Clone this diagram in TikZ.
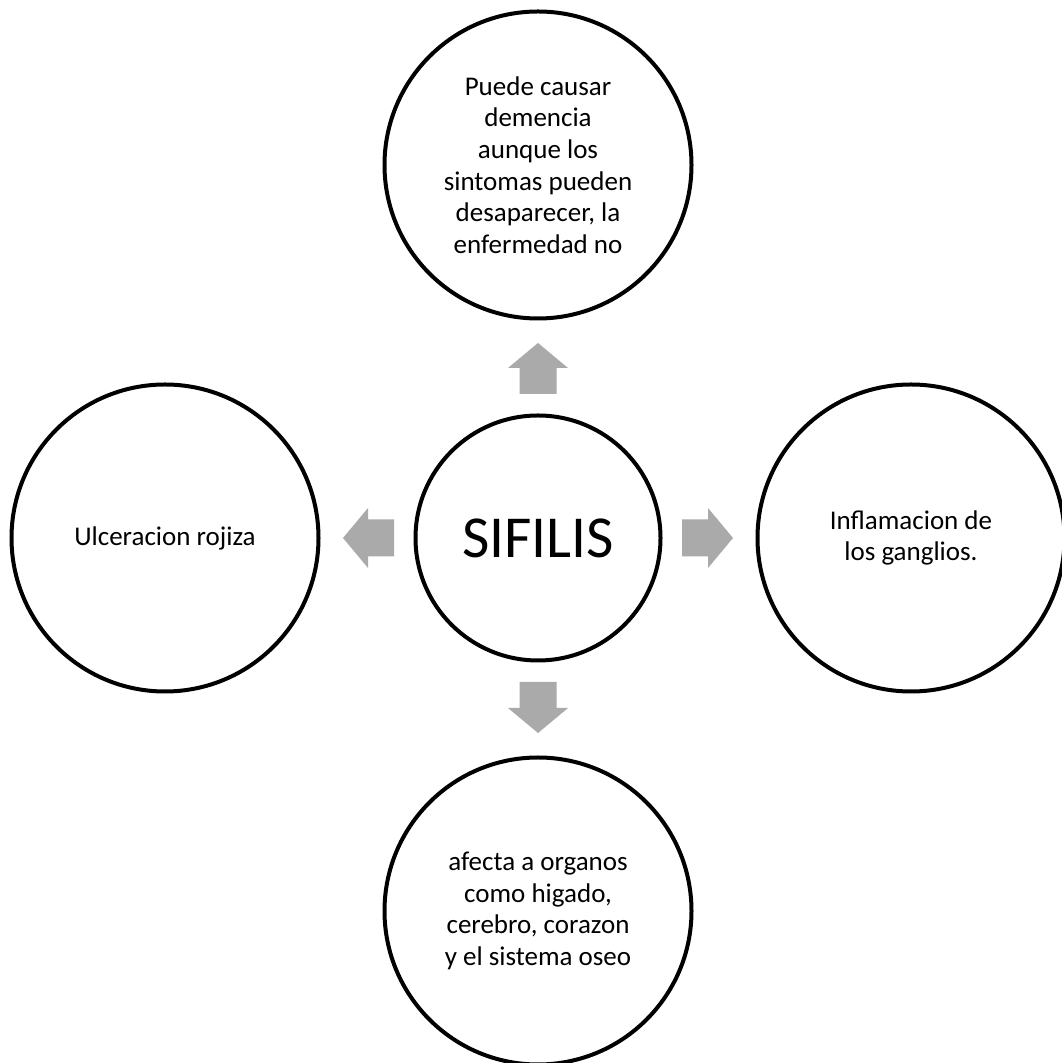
\documentclass[tikz,border=0pt]{standalone}
\usepackage{fontspec}
\setmainfont{Carlito}
\usetikzlibrary{calc}
\definecolor{arrowgray}{RGB}{170,170,170}
\tikzset{
  outercircle/.style={circle, draw=black, line width=4pt, minimum size=307pt, inner sep=0pt, align=center,
    font=\fontsize{27}{31.7}\selectfont},
  centercircle/.style={circle, draw=black, line width=4pt, minimum size=245pt, inner sep=0pt,
    font=\fontsize{59.5}{64}\selectfont},
  barrow/.pic={\fill[arrowgray] (0,-18.5) -- (26,-18.5) -- (26,-30) -- (51,0) -- (26,30) -- (26,18.5) -- (0,18.5) -- cycle;}
}
\begin{document}
\begin{tikzpicture}[x=1pt,y=1pt]
\useasboundingbox (0,0) rectangle (1062,1063);
\clip (0,0) rectangle (1062,1063);
\fill[white] (0,0) rectangle (1062,1063);
\node[centercircle] (c) at (538,525) {SIFILIS};
\node[outercircle] (t) at (538,898) {Puede causar\\demencia\\aunque los\\sintomas pueden\\desaparecer, la\\enfermedad no};
\node[outercircle] (l) at (165,525) {Ulceracion rojiza};
\node[outercircle] (r) at (911,525) {Inflamacion de\\los ganglios.};
\node[outercircle] (b) at (538,152) {afecta a organos\\como higado,\\cerebro, corazon\\y el sistema oseo};
\pic at ($(c.center)+(144,0)$) {barrow};
\pic[rotate=180] at ($(c.center)+(-144,0)$) {barrow};
\pic[rotate=90] at ($(c.center)+(0,144)$) {barrow};
\pic[rotate=-90] at ($(c.center)+(0,-144)$) {barrow};
\end{tikzpicture}
\end{document}
